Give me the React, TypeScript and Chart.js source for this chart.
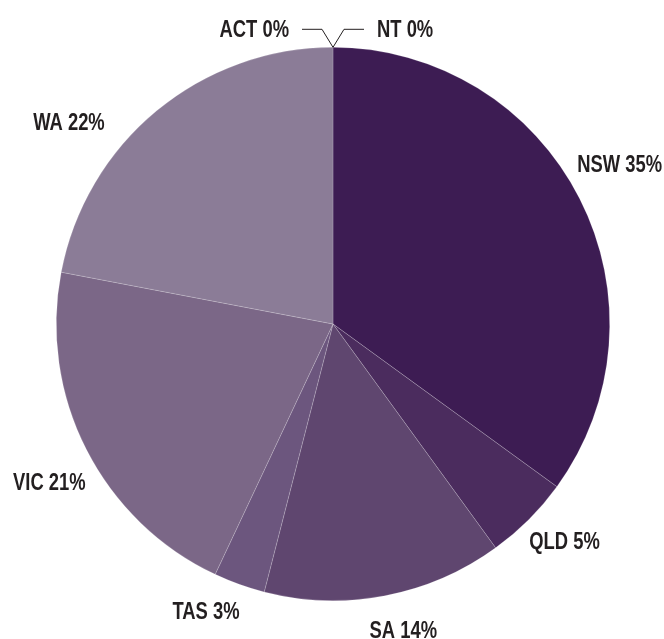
import React, { useEffect, useRef } from "react";
import { Chart, registerables } from "chart.js";

Chart.register(...registerables);

const states = ["NSW", "QLD", "SA", "TAS", "VIC", "WA", "ACT", "NT"];
const shares = [35, 5, 14, 3, 21, 22, 0, 0];
const sliceColors = [
  "#3d1c53",
  "#4b2c5e",
  "#5f466f",
  "#6c567e",
  "#7b6787",
  "#8b7c97",
  "#8b7c97",
  "#3d1c53",
];

// label nudges (px) relative to the generic outside anchor
const labelNudge: Record<string, [number, number]> = {
  NSW: [0, -12],
  QLD: [4, -9],
  SA: [10, -8],
  TAS: [-18, -14],
  VIC: [3, 14],
  WA: [-59, 48],
};

const FONT = 'bold 23px "Liberation Sans Narrow", "Arial Narrow", "Liberation Sans", Arial, sans-serif';
const NARROW = 0.8;

function narrowText(ctx: CanvasRenderingContext2D, text: string, x: number, y: number) {
  ctx.save();
  ctx.translate(x, y);
  ctx.scale(NARROW, 1);
  ctx.fillText(text, 0, 0);
  ctx.restore();
}

const labelPlugin = {
  id: "outsideLabels",
  afterDatasetsDraw(chart: any) {
    const ctx = chart.ctx as CanvasRenderingContext2D;
    const meta = chart.getDatasetMeta(0);
    const data = chart.data.datasets[0].data as number[];
    const labels = chart.data.labels as string[];
    ctx.save();
    ctx.font = FONT;
    ctx.fillStyle = "#231f20";
    ctx.textBaseline = "middle";
    meta.data.forEach((arc: any, i: number) => {
      const { x, y, startAngle, endAngle, outerRadius } = arc.getProps(
        ["x", "y", "startAngle", "endAngle", "outerRadius"],
        true
      );
      const mid = (startAngle + endAngle) / 2;
      const text = `${labels[i]} ${data[i]}%`;
      if (data[i] === 0) {
        const px = x + Math.cos(mid) * outerRadius;
        const py = y + Math.sin(mid) * outerRadius;
        const dir = labels[i] === "ACT" ? -1 : 1;
        const ey = py - 18;
        ctx.strokeStyle = "#231f20";
        ctx.lineWidth = 1;
        ctx.beginPath();
        ctx.moveTo(px, py);
        ctx.lineTo(px + dir * 11, ey);
        ctx.lineTo(px + dir * 31, ey);
        ctx.stroke();
        ctx.textAlign = dir < 0 ? "right" : "left";
        narrowText(ctx, text, px + dir * 44, ey + 1);
        return;
      }
      const r = outerRadius + 45;
      const nudge = labelNudge[labels[i]] || [0, 0];
      const lx = x + Math.cos(mid) * r + nudge[0];
      const ly = y + Math.sin(mid) * r + nudge[1];
      ctx.textAlign = "center";
      narrowText(ctx, text, lx, ly);
    });
    ctx.restore();
  },
};

export default function App() {
  const ref = useRef<HTMLCanvasElement | null>(null);
  useEffect(() => {
    if (!ref.current) return;
    const chart = new Chart(ref.current, {
      type: "pie",
      data: {
        labels: states,
        datasets: [
          {
            data: shares,
            backgroundColor: sliceColors,
            borderColor: "rgba(255,255,255,0.3)",
            borderWidth: 0.6,
          },
        ],
      },
      options: {
        responsive: false,
        animation: false,
        layout: { padding: { top: 47, bottom: 38, left: 56, right: 54 } },
        plugins: {
          legend: { display: false },
          tooltip: { enabled: false },
        },
      },
      plugins: [labelPlugin],
    });
    return () => chart.destroy();
  }, []);
  return (
    <div style={{ position: "fixed", left: 0, top: 0, width: 664, height: 639, background: "#fff" }}>
      <canvas ref={ref} width={664} height={639} style={{ display: "block" }} />
    </div>
  );
}
